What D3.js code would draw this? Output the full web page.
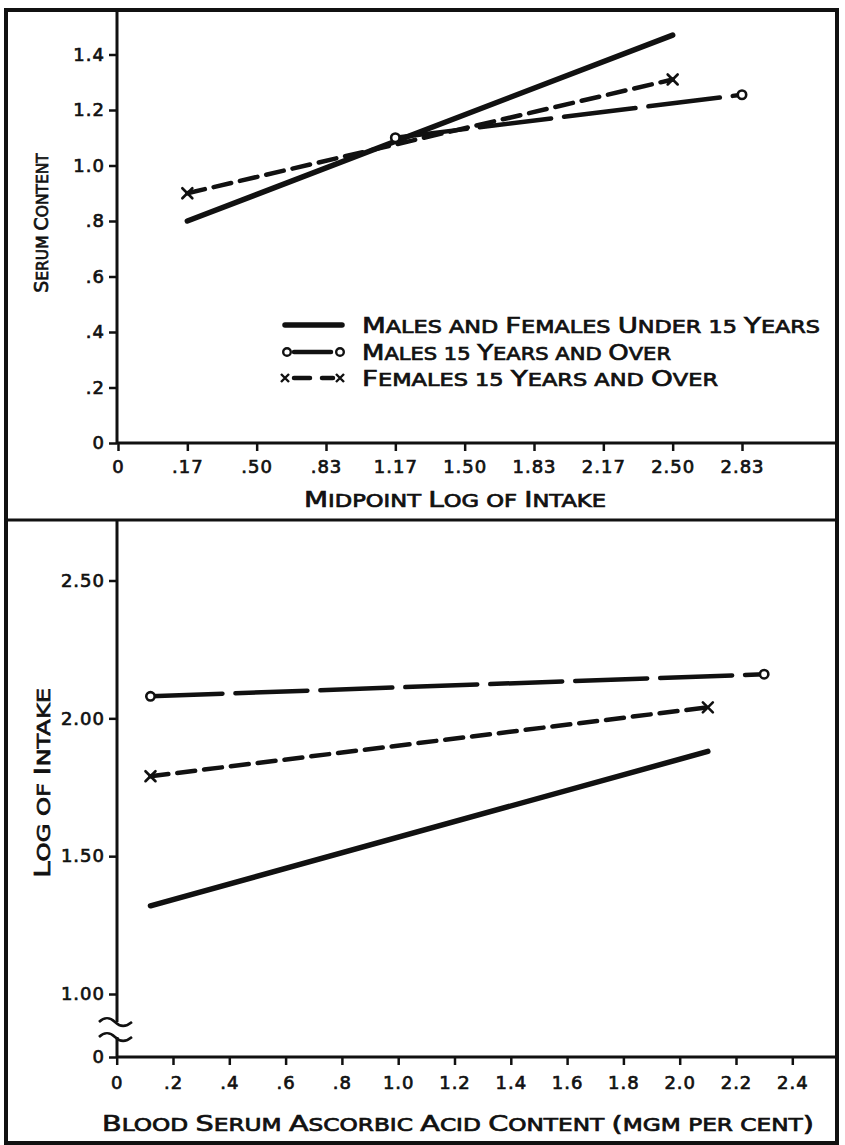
<!DOCTYPE html>
<html>
<head>
<meta charset="utf-8">
<title>Serum content and log of intake</title>
<script src="https://d3js.org/d3.v7.min.js"></script>
<style>
    html, body { margin: 0; padding: 0; background: #fff; }
    svg { display: block; }
    text { font-family: "DejaVu Sans", sans-serif; fill: #111; stroke: #111; stroke-width: 0.7px; white-space: pre; }
</style>
</head>
<body>
<div id="chart"></div>
<script>
/*global d3*/

// upper panel: serum content by midpoint log of intake (equally spaced classes)
var topCategories = ["0", ".17", ".50", ".83", "1.17", "1.50", "1.83", "2.17", "2.50", "2.83"];
var topYTicks = [0, 0.2, 0.4, 0.6, 0.8, 1.0, 1.2, 1.4];
var topYLabels = ["0", ".2", ".4", ".6", ".8", "1.0", "1.2", "1.4"];
var topUnder15 = [[".17", 0.80], ["2.50", 1.47]];
var topMales = [["1.17", 1.10], ["2.83", 1.255]];
var topFemales = [[".17", 0.90], ["2.50", 1.31]];

// lower panel: log of intake by blood serum ascorbic acid content
var bottomXTicks = [0, 0.2, 0.4, 0.6, 0.8, 1.0, 1.2, 1.4, 1.6, 1.8, 2.0, 2.2, 2.4];
var bottomXLabels = ["0", ".2", ".4", ".6", ".8", "1.0", "1.2", "1.4", "1.6", "1.8", "2.0", "2.2", "2.4"];
var bottomYTicks = [0, 1.0, 1.5, 2.0, 2.5];
var bottomYLabels = ["0", "1.00", "1.50", "2.00", "2.50"];
var bottomUnder15 = [[0.12, 1.32], [2.1, 1.88]];
var bottomMales = [[0.12, 2.08], [2.3, 2.16]];
var bottomFemales = [[0.12, 1.79], [2.1, 2.04]];

var legendLabels = ["Males and Females Under 15 Years", "Males 15 Years and Over", "Females 15 Years and Over"];

(function () {
    "use strict";

    var W = 845, H = 1145,
        axisX = 117,
        frame = {left: 6, top: 10, right: 837, bottom: 1143},
        divider = 520,
        tickFont = 18,
        bigCaps = 21,
        smallCaps = 17,
        legendWidths = [458, 309, 356];

    var svg = d3.select("#chart").append("svg")
        .attr("width", W)
        .attr("height", H);

    // hand lettering: capitals tall, the rest in small capitals, stretched to the drawn width
    var letter = function (sel, str, big, small, len) {
        var runs = [], i, ch, isBig;
        for (i = 0; i < str.length; i += 1) {
            ch = str[i];
            isBig = /[A-Z()]/.test(ch);
            if (runs.length && runs[runs.length - 1].big === isBig) {
                runs[runs.length - 1].t += ch;
            } else {
                runs.push({big: isBig, t: ch});
            }
        }
        sel.selectAll("tspan").data(runs).join("tspan")
            .attr("font-size", function (d) { return d.big ? big : small; })
            .text(function (d) { return d.t.toUpperCase(); });
        if (len) {
            sel.attr("textLength", len).attr("lengthAdjust", "spacingAndGlyphs");
        }
        return sel;
    };

    var styleAxis = function (g) {
        g.select(".domain").remove();
        g.selectAll(".tick line").attr("stroke", "#111").attr("stroke-width", 2.5);
        g.selectAll(".tick text").attr("font-size", tickFont).attr("fill", "#111")
            .attr("font-family", "DejaVu Sans, sans-serif")
            .attr("letter-spacing", 1);
    };

    var drawSeries = function (g, data, x, y, kind) {
        var line = d3.line()
            .x(function (d) { return x(d[0]); })
            .y(function (d) { return y(d[1]); });
        var p = g.append("path")
            .attr("d", line(data))
            .attr("fill", "none")
            .attr("stroke", "#111")
            .attr("stroke-linecap", "round");
        if (kind === "under15") {
            p.attr("stroke-width", 5.5);
        } else if (kind === "males") {
            p.attr("stroke-width", 4.5).attr("stroke-dasharray", "72 13");
        } else {
            p.attr("stroke-width", 4.5).attr("stroke-dasharray", "18 9");
        }
        if (kind === "males") {
            g.selectAll(null).data(data).join("circle")
                .attr("cx", function (d) { return x(d[0]); })
                .attr("cy", function (d) { return y(d[1]); })
                .attr("r", 4.2)
                .attr("fill", "#fff")
                .attr("stroke", "#111")
                .attr("stroke-width", 2.6);
        }
        if (kind === "females") {
            g.selectAll(null).data(data).join("path")
                .attr("transform", function (d) { return "translate(" + x(d[0]) + "," + y(d[1]) + ")"; })
                .attr("d", "M-5,-5L5,5M-5,5L5,-5")
                .attr("stroke", "#111")
                .attr("stroke-width", 2.6)
                .attr("stroke-linecap", "round");
        }
    };

    // frame and divider
    svg.append("rect")
        .attr("x", frame.left).attr("y", frame.top)
        .attr("width", frame.right - frame.left)
        .attr("height", frame.bottom - frame.top)
        .attr("fill", "none").attr("stroke", "#111").attr("stroke-width", 4);
    svg.append("line")
        .attr("x1", frame.left).attr("x2", frame.right)
        .attr("y1", divider).attr("y2", divider)
        .attr("stroke", "#111").attr("stroke-width", 3);

    // ---------- upper panel ----------
    var xTop = d3.scalePoint().domain(topCategories).range([118, 742]);
    var yTop = d3.scaleLinear().domain([0, 1.4]).range([443, 54.5]);

    svg.append("g")
        .attr("transform", "translate(0,443)")
        .call(d3.axisBottom(xTop).tickSize(8).tickPadding(9))
        .call(styleAxis);
    svg.append("g")
        .attr("transform", "translate(" + axisX + ",0)")
        .call(d3.axisLeft(yTop).tickValues(topYTicks)
            .tickFormat(function (d, i) { return topYLabels[i]; })
            .tickSize(8).tickPadding(4))
        .call(styleAxis);
    svg.append("line")
        .attr("x1", axisX).attr("x2", axisX).attr("y1", frame.top).attr("y2", 443)
        .attr("stroke", "#111").attr("stroke-width", 3);
    svg.append("line")
        .attr("x1", axisX).attr("x2", frame.right).attr("y1", 443).attr("y2", 443)
        .attr("stroke", "#111").attr("stroke-width", 3);

    var gTop = svg.append("g");
    drawSeries(gTop, topUnder15, xTop, yTop, "under15");
    drawSeries(gTop, topMales, xTop, yTop, "males");
    drawSeries(gTop, topFemales, xTop, yTop, "females");

    svg.append("text")
        .attr("transform", "translate(48,223) rotate(-90)")
        .attr("text-anchor", "middle")
        .call(letter, "Serum Content", 19, 15.5);
    svg.append("text")
        .attr("x", 455).attr("y", 507)
        .attr("text-anchor", "middle")
        .call(letter, "Midpoint Log of Intake", bigCaps, smallCaps, 302);

    // legend
    var leg = svg.append("g");
    leg.append("line").attr("x1", 285).attr("x2", 342).attr("y1", 325).attr("y2", 325)
        .attr("stroke", "#111").attr("stroke-width", 5.5).attr("stroke-linecap", "round");
    leg.append("line").attr("x1", 294).attr("x2", 331).attr("y1", 352).attr("y2", 352)
        .attr("stroke", "#111").attr("stroke-width", 4.5).attr("stroke-linecap", "round");
    leg.selectAll(null).data([287, 340]).join("circle")
        .attr("cx", function (d) { return d; }).attr("cy", 352).attr("r", 3.8)
        .attr("fill", "#fff").attr("stroke", "#111").attr("stroke-width", 2.4);
    leg.append("line").attr("x1", 294).attr("x2", 333).attr("y1", 378).attr("y2", 378)
        .attr("stroke", "#111").attr("stroke-width", 4.5).attr("stroke-linecap", "round")
        .attr("stroke-dasharray", "16 12");
    leg.selectAll(null).data([285, 340]).join("path")
        .attr("transform", function (d) { return "translate(" + d + ",378)"; })
        .attr("d", "M-4,-4L4,4M-4,4L4,-4")
        .attr("stroke", "#111").attr("stroke-width", 2.4);
    leg.selectAll(null).data(legendLabels).join("text")
        .attr("x", 362)
        .attr("y", function (d, i) { return 333 + i * 26.5; })
        .each(function (d, i) { d3.select(this).call(letter, d, bigCaps, smallCaps, legendWidths[i]); });

    // ---------- lower panel ----------
    var xBottom = d3.scaleLinear().domain([0, 2.4]).range([116.7, 792.3]);
    // broken axis: 0 sits just below 1.00
    var yBottom = d3.scaleLinear().domain([0, 1, 2.5]).range([1057, 994, 580.5]);

    svg.append("g")
        .attr("transform", "translate(0,1057)")
        .call(d3.axisBottom(xBottom).tickValues(bottomXTicks)
            .tickFormat(function (d, i) { return bottomXLabels[i]; })
            .tickSize(8).tickPadding(11))
        .call(styleAxis);
    svg.append("g")
        .attr("transform", "translate(" + axisX + ",0)")
        .call(d3.axisLeft(yBottom).tickValues(bottomYTicks)
            .tickFormat(function (d, i) { return bottomYLabels[i]; })
            .tickSize(8).tickPadding(4))
        .call(styleAxis);
    svg.append("line")
        .attr("x1", axisX).attr("x2", axisX).attr("y1", divider).attr("y2", 1022)
        .attr("stroke", "#111").attr("stroke-width", 3);
    svg.append("line")
        .attr("x1", axisX).attr("x2", axisX).attr("y1", 1037).attr("y2", 1057)
        .attr("stroke", "#111").attr("stroke-width", 3);
    svg.append("line")
        .attr("x1", axisX).attr("x2", frame.right).attr("y1", 1057).attr("y2", 1057)
        .attr("stroke", "#111").attr("stroke-width", 3);
    svg.selectAll(null).data([1022, 1037]).join("path")
        .attr("d", function (y) {
            return "M99," + y + " C104," + (y - 5) + " 110," + (y - 5) + " 115," + y +
                " S126," + (y + 5) + " 132," + y;
        })
        .attr("fill", "none").attr("stroke", "#111").attr("stroke-width", 2.5);

    var gBottom = svg.append("g");
    drawSeries(gBottom, bottomUnder15, xBottom, yBottom, "under15");
    drawSeries(gBottom, bottomMales, xBottom, yBottom, "males");
    drawSeries(gBottom, bottomFemales, xBottom, yBottom, "females");

    svg.append("text")
        .attr("transform", "translate(50,783) rotate(-90)")
        .attr("text-anchor", "middle")
        .call(letter, "Log of Intake", bigCaps, smallCaps, 190);
    svg.append("text")
        .attr("x", 458).attr("y", 1131)
        .attr("text-anchor", "middle")
        .call(letter, "Blood Serum Ascorbic Acid Content (mgm per cent)", bigCaps, smallCaps, 712);
}());
</script>
</body>
</html>
